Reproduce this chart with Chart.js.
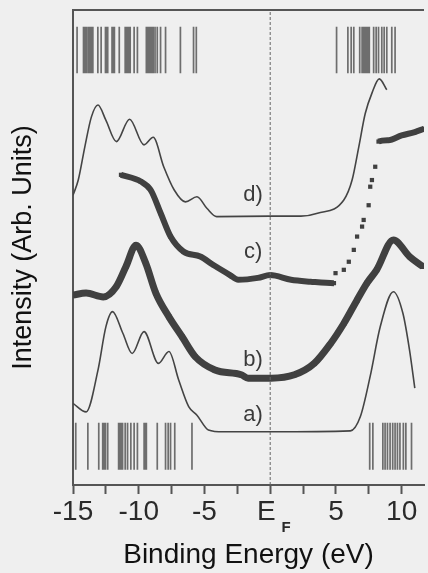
<!DOCTYPE html>
<html>
<head>
<meta charset="utf-8">
<script src="https://cdn.jsdelivr.net/npm/chart.js@4/dist/chart.umd.min.js"></script>
<style>
  html, body { margin: 0; padding: 0; background: #efefef; }
  #wrap { width: 428px; height: 573px; }
</style>
</head>
<body>
<div id="wrap"><canvas id="spectra" width="428" height="573"></canvas></div>
<script>
// curve a) - thin line, bottom
const aEnergy = [-15, -14, -13.1, -12.5, -12.0, -11.2, -10.5, -9.6, -8.5, -7.7, -6.96, -6.2, -5.57, -4.7, -3.56, 0, 6.1, 6.86, 7.6, 8.37, 9.37, 10.1, 10.6, 11.0];
const aIntensity = [17.2, 15.4, 24.2, 33.3, 36.5, 31.9, 27.7, 32.3, 25.6, 28.1, 22.1, 16.5, 14.7, 11.6, 11.2, 11.2, 11.4, 14.4, 22.8, 33.3, 40.7, 36.1, 28.4, 20.4];

// curve b) - measured points
const bEnergy = [-15, -14, -12.7, -11.7, -10.97, -10.2, -9.47, -8.7, -7.7, -6.7, -5.7, -4.2, -2.2, -1.68, 0.08, 1.84, 3.35, 4.6, 5.6, 6.6, 7.36, 8.1, 9.37, 10.6, 11.6];
const bIntensity = [40, 40.4, 39.6, 41.8, 46, 50.5, 46.7, 40.4, 35.4, 31.2, 27, 24.2, 23.2, 22.5, 22.5, 23.2, 25.6, 29.8, 34, 38.9, 42.5, 45.3, 51.6, 48.1, 46];

// curve c) - measured points (sparse between ~5 and ~8 eV)
const cEnergy = [-11.35, -9.84, -9.09, -8.33, -7.58, -6.58, -5.32, -4.32, -3.06, -2.43, -0.93, 0, 1.58, 3.07, 4.85, 4.97, 5.6, 5.98, 6.36, 6.61, 6.99, 7.11, 7.49, 7.61, 7.74, 7.99, 8.24, 9.0, 10.0, 11.0, 11.7];
const cIntensity = [65.3, 63.9, 62.1, 57.2, 52.3, 49.1, 48.1, 46.3, 44.2, 43.2, 43.6, 44.2, 43.2, 42.8, 42.5, 44.6, 45.3, 47, 49.5, 52.3, 54.4, 55.8, 58.9, 62.8, 64.2, 67, 72.3, 72.6, 73.6, 74.3, 75];
const cGap = [4.85, 8.24];

// curve d) - thin line, top
const dEnergy = [-15, -14.6, -14.1, -13.6, -13.1, -12.5, -11.7, -10.7, -9.6, -8.9, -8.1, -7.3, -6.45, -5.57, -4.8, -4.07, 0, 2.34, 3.6, 5.6, 6.23, 6.74, 7.23, 7.74, 8.3, 8.87];
const dIntensity = [61, 64.2, 71.2, 77.5, 80, 76.8, 72.3, 77, 71.6, 73.2, 67, 62.1, 59.6, 60.7, 58.2, 56.5, 56.6, 56.6, 57.2, 60, 64.2, 71.2, 78.2, 82.5, 85.5, 83.2];

// stick spectra (eV)
const topSticks = [-14.69, -14.2, -14.11, -14.0, -13.86, -13.78, -13.69, -13.58, -13.49, -13.11, -12.86, -12.53, -12.45, -12.36, -12.03, -11.95, -11.85, -11.48, -11.03, -10.95, -10.85, -10.75, -10.65, -10.35, -10.1, -9.42, -9.32, -9.22, -9.12, -9.01, -8.9, -8.76, -8.59, -8.34, -7.96, -6.83, -5.83, -5.62,
                   5.05, 5.91, 6.16, 6.36, 6.81, 6.99, 7.12, 7.23, 7.3, 7.36, 7.45, 7.54, 7.87, 8.06, 8.24, 8.49, 8.67, 8.87, 9.25, 9.5];
const bottomSticks = [-14.79, -13.87, -13.04, -12.74, -12.62, -12.53, -12.36, -11.53, -11.45, -11.35, -11.23, -11.03, -10.85, -10.6, -10.35, -10.1, -9.59, -9.5, -9.42, -8.59, -7.96, -7.76, -7.58, -7.26, -5.95,
                      7.57, 7.81, 8.57, 8.74, 8.92, 9.12, 9.32, 9.5, 9.68, 9.87, 10.13, 10.32, 10.75];
const topStickRange = [86.7, 96.5];
const bottomStickRange = [3.2, 13.1];

const fermiLevel = 0;
const curveNames = ['a)', 'b)', 'c)', 'd)'];
const curveLabelY = [14.7, 26.3, 49.1, 61];
const curveLabelX = -1.3;

const xTitle = 'Binding Energy (eV)';
const yTitle = 'Intensity (Arb. Units)';

const ink = '#444';
const fontFamily = '"Liberation Sans", Arial, sans-serif';

function toPoints(xs, ys) {
    return xs.map((x, i) => ({ x: x, y: ys[i] }));
}

function stickPoints(list, range) {
    const pts = [];
    list.forEach(e => {
        pts.push({ x: e, y: range[0] }, { x: e, y: range[1] }, { x: e, y: null });
    });
    return pts;
}

// background, top frame line, curve labels and the F subscript
const decorations = {
    id: 'decorations',
    beforeDraw(chart) {
        const ctx = chart.ctx;
        ctx.save();
        ctx.fillStyle = '#efefef';
        ctx.fillRect(0, 0, chart.width, chart.height);
        ctx.restore();
    },
    afterDraw(chart) {
        const { ctx, chartArea } = chart;
        const x = chart.scales.x;
        const y = chart.scales.y;
        ctx.save();
        ctx.strokeStyle = '#555';
        ctx.lineWidth = 2;
        ctx.beginPath();
        ctx.moveTo(chartArea.left - 1, chartArea.top);
        ctx.lineTo(chartArea.right, chartArea.top);
        ctx.stroke();

        ctx.fillStyle = '#3a3a3a';
        ctx.font = '22px ' + fontFamily;
        ctx.textAlign = 'center';
        ctx.textBaseline = 'middle';
        curveNames.forEach((name, i) => {
            ctx.fillText(name, x.getPixelForValue(curveLabelX), y.getPixelForValue(curveLabelY[i]));
        });

        ctx.fillStyle = '#2a2a2a';
        ctx.font = 'bold 15px ' + fontFamily;
        ctx.fillText('F', x.getPixelForValue(fermiLevel) + 16, chartArea.bottom + 43);
        ctx.restore();
    }
};

const ctx = document.getElementById('spectra').getContext('2d');
new Chart(ctx, {
    type: 'line',
    data: {
        datasets: [
            {
                label: 'top sticks',
                data: stickPoints(topSticks, topStickRange),
                borderColor: 'rgba(55,55,55,0.7)',
                borderWidth: 1.7,
                pointRadius: 0
            },
            {
                label: 'bottom sticks',
                data: stickPoints(bottomSticks, bottomStickRange),
                borderColor: 'rgba(55,55,55,0.7)',
                borderWidth: 1.7,
                pointRadius: 0
            },
            {
                label: 'E_F',
                data: [{ x: fermiLevel, y: 0 }, { x: fermiLevel, y: 100 }],
                borderColor: '#666',
                borderWidth: 1,
                borderDash: [3, 2],
                pointRadius: 0
            },
            {
                label: 'a)',
                data: toPoints(aEnergy, aIntensity),
                borderColor: ink,
                borderWidth: 1.6,
                pointRadius: 0,
                cubicInterpolationMode: 'monotone'
            },
            {
                label: 'd)',
                data: toPoints(dEnergy, dIntensity),
                borderColor: ink,
                borderWidth: 1.6,
                pointRadius: 0,
                cubicInterpolationMode: 'monotone'
            },
            {
                label: 'b)',
                data: toPoints(bEnergy, bIntensity),
                borderColor: '#404040',
                borderWidth: 7,
                pointStyle: 'rect',
                pointRadius: 3.5,
                pointBackgroundColor: '#404040',
                pointBorderWidth: 0,
                cubicInterpolationMode: 'monotone'
            },
            {
                label: 'c)',
                data: toPoints(cEnergy, cIntensity),
                borderColor: '#404040',
                borderWidth: 6,
                pointStyle: 'rect',
                pointRadius: 3,
                pointBackgroundColor: '#404040',
                pointBorderWidth: 0,
                cubicInterpolationMode: 'monotone',
                segment: {
                    borderColor: s => (s.p0.parsed.x >= cGap[0] && s.p1.parsed.x <= cGap[1]) ? 'rgba(0,0,0,0)' : undefined
                }
            }
        ]
    },
    options: {
        responsive: false,
        animation: false,
        events: [],
        layout: { padding: { top: 10, right: 0, left: 0, bottom: 0 } },
        plugins: {
            legend: { display: false },
            tooltip: { enabled: false }
        },
        scales: {
            x: {
                type: 'linear',
                min: -15,
                max: 11.7,
                afterFit: s => { s.height = 88; },
                border: { display: true, color: '#555', width: 2 },
                grid: { drawOnChartArea: false, drawTicks: true, tickLength: 9, tickColor: '#555', tickWidth: 2 },
                ticks: {
                    stepSize: 2.5,
                    autoSkip: false,
                    maxRotation: 0,
                    includeBounds: false,
                    padding: 1,
                    color: '#2a2a2a',
                    font: { size: 28, family: fontFamily },
                    callback: v => {
                        if (v === 0) return 'E ';
                        return v % 5 === 0 ? String(v) : '';
                    }
                },
                title: {
                    display: true,
                    text: xTitle,
                    color: '#111',
                    font: { size: 28, family: fontFamily },
                    padding: { top: 0, bottom: 1 }
                }
            },
            y: {
                min: 0,
                max: 100,
                afterFit: s => { s.width = 73; },
                border: { display: true, color: '#555', width: 2 },
                grid: { display: false },
                ticks: { display: false },
                title: {
                    display: true,
                    text: yTitle,
                    color: '#111',
                    font: { size: 27, family: fontFamily },
                    padding: { top: 7, bottom: 0 }
                }
            }
        }
    },
    plugins: [decorations]
});
</script>
</body>
</html>
